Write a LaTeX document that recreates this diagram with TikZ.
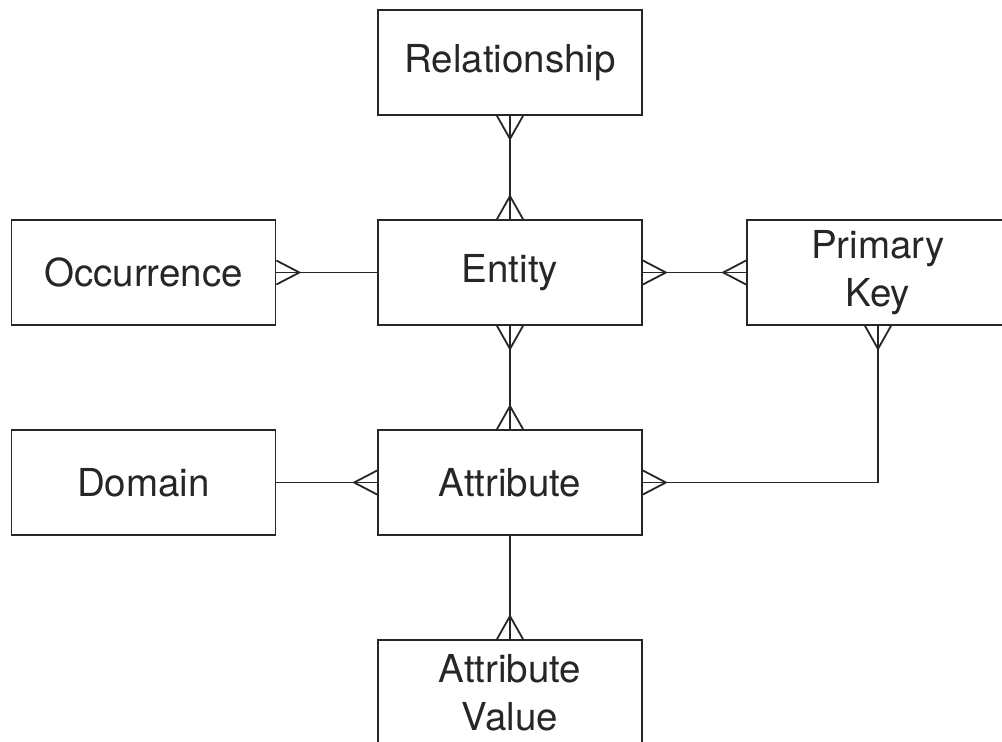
\documentclass[tikz,border=0pt]{standalone}
\usepackage{fontspec}
\setmainfont{TeX Gyre Heros}
\usetikzlibrary{calc}
\tikzset{
  ln/.style={line width=1.8pt, black!85},
  box/.style={ln, draw, rectangle, minimum width=264pt, minimum height=105pt, inner sep=0pt,
    align=center, font=\fontsize{38.5}{48}\selectfont},
}
\newcommand\crowv[2]{\draw[ln] ($(#1)+(-13,0)$) -- ($(#1)+(0,#2)$) -- ($(#1)+(13,0)$);}
\newcommand\crowh[2]{\draw[ln] ($(#1)+(0,-12)$) -- ($(#1)+(#2,0)$) -- ($(#1)+(0,12)$);}
\begin{document}
\begin{tikzpicture}[x=1pt,y=-1pt]
\useasboundingbox (0,0) rectangle (1002,742);
\node[box] (r) at (510,62.5) {Relationship};
\node[box] (o) at (143.5,272.5) {Occurrence};
\node[box] (e) at (510,272.5) {Entity};
\node[box, minimum width=262pt] (pk) at (878,272.5) {Primary\\Key};
\node[box] (d) at (143.5,482.5) {Domain};
\node[box] (a) at (510,482.5) {Attribute};
\node[box] (av) at (510,692.5) {Attribute\\Value};
% connectors
\draw[ln] (r.south) -- (e.north);
\crowv{r.south}{23}
\crowv{e.north}{-23}
\draw[ln] (o.east) -- (e.west);
\crowh{o.east}{23}
\draw[ln] (e.east) -- (pk.west);
\crowh{e.east}{23}
\crowh{pk.west}{-23}
\draw[ln] (e.south) -- (a.north);
\crowv{e.south}{23}
\crowv{a.north}{-23}
\draw[ln] (d.east) -- (a.west);
\crowh{a.west}{-23}
\draw[ln] (a.east) -| (pk.south);
\crowh{a.east}{23}
\crowv{pk.south}{23}
\draw[ln] (a.south) -- (av.north);
\crowv{av.north}{-23}
\end{tikzpicture}
\end{document}
